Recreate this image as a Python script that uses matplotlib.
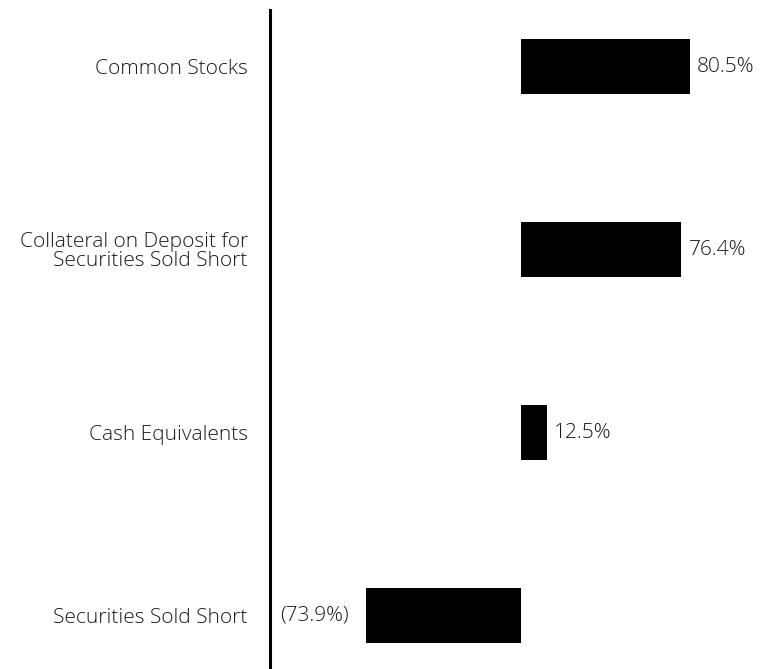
import matplotlib.pyplot as plt

categories = ["Common Stocks",
              "Collateral on Deposit for\nSecurities Sold Short",
              "Cash Equivalents",
              "Securities Sold Short"]
values = [80.5, 76.4, 12.5, -73.9]
value_labels = ["80.5%", "76.4%", "12.5%", "(73.9%)"]

plt.rcParams['font.family'] = ['Open Sans', 'DejaVu Sans']

fig = plt.figure(figsize=(7.68, 6.69), dpi=100)
ax = fig.add_axes([270 / 768, 0, 1 - 270 / 768, 659 / 669])

pos = list(range(len(categories)))
ax.barh(pos, values, height=0.30, color='black')

ax.set_xlim(-119.5, 117.6)
ax.set_ylim(3.29, -0.31)

for p, v, lab in zip(pos, values, value_labels):
    if v >= 0:
        ax.annotate(lab, (v, p), xytext=(5, 0), textcoords='offset points',
                    ha='left', va='center', fontsize=15, fontweight='light',
                    color='#1a1a1a')
    else:
        ax.annotate(lab, (v, p), xytext=(-12, 0), textcoords='offset points',
                    ha='right', va='center', fontsize=15, fontweight='light',
                    color='#1a1a1a')

ax.set_yticks(pos)
ax.set_yticklabels(categories, fontsize=15, fontweight='light', color='#1a1a1a',
                   linespacing=0.92)
ax.tick_params(axis='y', length=0, pad=16)
ax.set_xticks([])

for s in ['top', 'right', 'bottom']:
    ax.spines[s].set_visible(False)
ax.spines['left'].set_linewidth(2.2)
ax.spines['left'].set_color('black')

fig.savefig("out.png", dpi=100)
